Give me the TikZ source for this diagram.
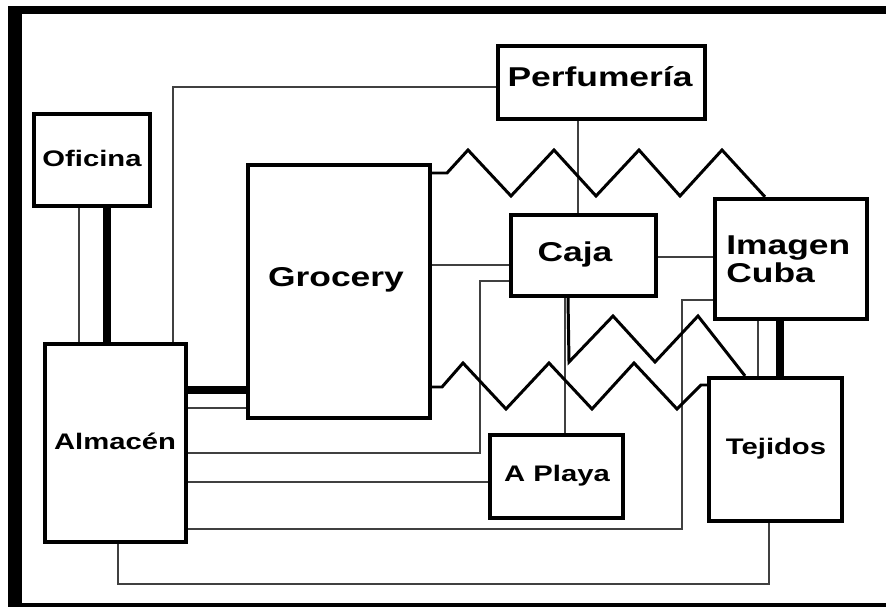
\documentclass[tikz,border=0pt]{standalone}
\usepackage{fontspec}
\setmainfont{Liberation Sans}[FakeStretch=1.3]

\tikzset{
  room/.style={draw, line width=2.4pt, rectangle, inner sep=0pt},
  wire/.style={draw=black!75, line width=0.9pt},
  heavy/.style={draw, line width=4.3pt},
  zigzag/.style={draw, line width=1.7pt, line join=miter},
  roomname/.style={font=\bfseries\fontsize{12.8}{15}\selectfont, inner sep=0pt, anchor=base},
  bigname/.style={font=\bfseries\fontsize{15.5}{16.2}\selectfont, inner sep=0pt, anchor=base, align=left}
}

\begin{document}
\begin{tikzpicture}[x=0.02cm, y=-0.02cm]

        \useasboundingbox (0,0) rectangle (886,607);

        % frame
        \fill (8,6) rectangle (22,607);
        \fill (8,6) rectangle (886,14);
        \fill (8,603) rectangle (886,607);

        % rooms
        \node[room, minimum width=2.32cm, minimum height=1.84cm] (ofi) at (92,160) {};
        \node[room, minimum width=3.64cm, minimum height=5.06cm] (groc) at (339,291.5) {};
        \node[room, minimum width=4.14cm, minimum height=1.46cm] (perf) at (601.5,82.5) {};
        \node[room, minimum width=2.9cm, minimum height=1.62cm] (caja) at (583.5,255.5) {};
        \node[room, minimum width=3.04cm, minimum height=2.4cm] (imag) at (791,259) {};
        \node[room, minimum width=2.82cm, minimum height=3.96cm] (alm) at (115.5,443) {};
        \node[room, minimum width=2.66cm, minimum height=1.66cm] (play) at (556.5,476.5) {};
        \node[room, minimum width=2.66cm, minimum height=2.86cm] (tej) at (775.5,449.5) {};

        \node[roomname] (ofiT) at (92,167) {Oficina};
        \node[bigname] (grocT) at (336,287) {Grocery};
        \node[bigname] (perfT) at (600,87) {Perfumería};
        \node[bigname] (cajaT) at (575,262) {Caja};
        \node[bigname, anchor=base west] (imagT) at (726,283) {Imagen\\Cuba};
        \node[roomname] (almT) at (115,450) {Almacén};
        \node[roomname] (playT) at (557,482) {A Playa};
        \node[roomname] (tejT) at (776,455) {Tejidos};

        % thin links
        \draw[wire] (ofi.south -| 79,0) -- (alm.north -| 79,0);
        \draw[wire] (alm.north -| 173,0) |- (perf.west |- 0,87);
        \draw[wire] (alm.east |- 0,408) -- (groc.west |- 0,408);
        \draw[wire] (alm.east |- 0,453) -| (480,281) -- (caja.west |- 0,281);
        \draw[wire] (alm.east |- 0,482) -- (play.west |- 0,482);
        \draw[wire] (alm.east |- 0,529) -| (682,300) -- (imag.west |- 0,300);
        \draw[wire] (alm.south -| 118,0) -- ++(0,40) -| (tej.south -| 769,0);
        \draw[wire] (groc.east |- 0,265) -- (caja.west |- 0,265);
        \draw[wire] (perf.south -| 578,0) -- (caja.north -| 578,0);
        \draw[wire] (caja.east |- 0,257) -- (imag.west |- 0,257);
        \draw[wire] (caja.south -| 565,0) -- (play.north -| 565,0);
        \draw[wire] (imag.south -| 758,0) -- (tej.north -| 758,0);

        % thick links
        \draw[heavy] (ofi.south -| 107,0) -- (alm.north -| 107,0);
        \draw[heavy] (alm.east |- 0,390) -- (groc.west |- 0,390);
        \draw[heavy] (imag.south -| 780,0) -- (tej.north -| 780,0);

        % zigzags
        \draw[zigzag] (groc.east |- 0,173) -- (447,173) -- (468,150) -- (511,196) -- (554,150)
          -- (596,196) -- (639,150) -- (680,196) -- (722,150) -- (imag.north -| 765,0);
        \draw[zigzag] (caja.south -| 568,0) -- (569,362) -- (613,316) -- (655,362) -- (698,316)
          -- (tej.north -| 745,0);
        \draw[zigzag] (groc.east |- 0,387) -- (442,387) -- (463,363) -- (506,409) -- (549,363)
          -- (592,409) -- (634,363) -- (677,409) -- (701,385) -- (tej.west |- 0,385);

    \end{tikzpicture}
\end{document}
